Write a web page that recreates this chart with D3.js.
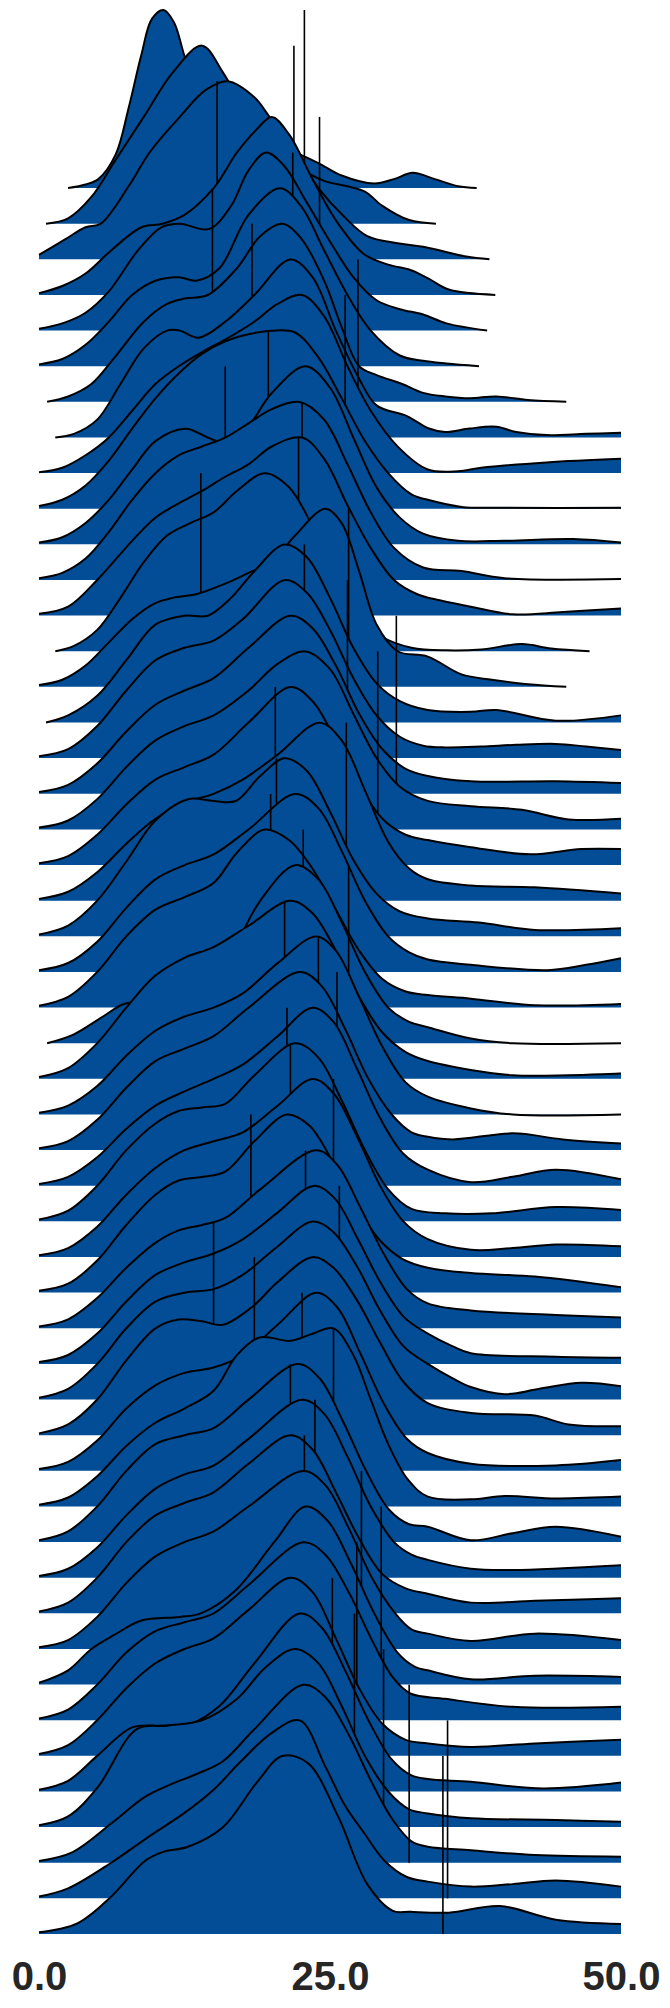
<!DOCTYPE html>
<html><head><meta charset="utf-8">
<script src="https://cdn.jsdelivr.net/npm/d3@7"></script>
<style>body{margin:0;background:#fff}svg{display:block}</style>
</head><body>
<svg id="chart" width="670" height="2008"></svg>
<script>
const tickValues = [0, 25, 50];
const tickLabels = ["0.0", "25.0", "50.0"];
const markers = [22.8,21.9,15.3,24.1,21.8,14.9,18.3,27.4,26.3,19.7,16.0,22.6,22.3,13.9,26.6,22.8,26.5,30.7,29.1,20.3,
  26.4,20.4,19.9,22.7,26.6,21.1,24.0,25.6,21.3,21.6,25.3,18.2,22.9,25.8,15.0,18.5,22.6,25.3,21.6,23.7,
  22.8,27.7,29.4,27.3,25.2,27.1,29.6,31.8,35.1,34.7];
const ridges = [
 [[2.5,0],[4,0.02],[5.1,0.05],[6.6,0.19],[7.7,0.45],[8.8,0.75],[9.7,0.95],[10.7,1],[11.6,0.93],[12.6,0.72],[14,0.5],[16,0.38],[18,0.3],[20,0.25],[22,0.2],[24,0.14],[26,0.07],[28.8,0.025],[30.5,0.05],[32.1,0.085],[34,0.05],[36,0.01],[37.6,0]],
 [[0.6,0],[2.5,0.03],[4.5,0.15],[6.5,0.35],[9,0.6],[11.5,0.85],[14,1],[15.8,0.85],[18,0.6],[20,0.45],[22,0.33],[24.5,0.24],[26.5,0.21],[28,0.18],[29.5,0.1],[31.8,0.02],[34.1,0]],
 [[0,0.025],[2.2,0.11],[4,0.18],[5.3,0.2],[7.7,0.41],[9.5,0.6],[12.1,0.8],[14.3,0.95],[16.2,1],[18.5,0.91],[19.8,0.8],[22,0.6],[24,0.4],[26.2,0.24],[28.2,0.13],[30.8,0.09],[33,0.07],[36.7,0.015],[38.7,0]],
 [[0,0.01],[2,0.05],[4,0.12],[6.2,0.25],[8.8,0.38],[10.6,0.4],[12.5,0.45],[15,0.6],[17,0.8],[18.7,0.93],[20,1],[21.5,0.9],[23.5,0.65],[25.5,0.42],[27.9,0.23],[30,0.17],[31.9,0.14],[33.5,0.09],[35.2,0.03],[39.2,0]],
 [[0,0.01],[2,0.04],[4,0.1],[6,0.22],[8.5,0.45],[10.5,0.58],[12.1,0.6],[14.6,0.57],[16.5,0.7],[18,0.9],[19.5,1],[21,0.93],[23,0.72],[25,0.5],[27,0.3],[29,0.17],[31,0.12],[33,0.09],[35,0.04],[38.5,0]],
 [[0,0.01],[2,0.04],[4,0.12],[6,0.25],[8,0.4],[10,0.48],[12,0.5],[13.5,0.48],[15.5,0.55],[18,0.85],[20.7,1],[22.5,0.9],[24.5,0.65],[26.5,0.4],[28.5,0.2],[31,0.06],[33,0.03],[35,0.015],[37.8,0]],
 [[0.7,0],[2.5,0.03],[4.5,0.1],[6.5,0.25],[9,0.45],[11,0.55],[12.5,0.58],[14.5,0.6],[17,0.75],[19,0.93],[20.9,1],[22.5,0.92],[24.5,0.68],[26,0.42],[27.5,0.2],[29,0.15],[31.2,0.1],[33,0.05],[34.9,0.03],[37,0.02],[39.3,0.03],[42,0.01],[45.3,0]],
 [[1.4,0],[3,0.02],[5,0.1],[7,0.3],[9,0.5],[11,0.6],[12.1,0.6],[13.7,0.56],[16,0.65],[18.5,0.8],[21.6,1],[23.5,0.9],[25.5,0.6],[27.5,0.33],[29,0.18],[31.6,0.12],[33.5,0.05],[34.9,0.03],[37,0.05],[39.3,0.06],[41,0.03],[43.6,0.013],[47,0.02],[50,0.026]],
 [[0,0.005],[2,0.03],[4,0.1],[6,0.2],[8,0.35],[10,0.5],[12,0.6],[14,0.68],[16,0.75],[18.5,0.85],[20.5,0.95],[22.6,1],[24.5,0.88],[26.5,0.6],[28.5,0.35],[30.8,0.15],[33.4,0.02],[36,0.01],[38,0.03],[43.6,0.06],[50,0.08]],
 [[0,0.015],[2,0.05],[4,0.13],[6,0.27],[8,0.45],[10,0.62],[12,0.76],[14,0.87],[16,0.94],[18,0.98],[20,1],[22,0.99],[24,0.85],[26,0.62],[28,0.38],[30,0.2],[32,0.08],[33.4,0.05],[36.3,0.01],[40,0.005],[50,0.005]],
 [[0,0.01],[2,0.04],[4,0.12],[6,0.25],[8,0.42],[10,0.58],[12.6,0.65],[14.5,0.6],[15.9,0.57],[17.5,0.62],[20,0.85],[22.9,1],[25,0.88],[27,0.6],[29,0.32],[31,0.15],[33,0.06],[36,0.02],[40,0.02],[45.9,0.03],[50,0.01]],
 [[0,0.01],[2,0.04],[4,0.12],[6,0.27],[8,0.45],[10,0.6],[12,0.7],[14,0.75],[16,0.8],[18,0.88],[20,0.96],[22.4,1],[24.5,0.9],[26.5,0.65],[28.5,0.38],[30.5,0.18],[33,0.07],[36.3,0.05],[40,0.01],[50,0.005]],
 [[0,0.01],[2.5,0.05],[5,0.2],[8,0.42],[10,0.55],[12,0.63],[14,0.7],[16,0.78],[18,0.85],[20,0.95],[22.6,1],[24.5,0.88],[26.5,0.62],[28.5,0.38],[30.5,0.2],[32.5,0.12],[34.1,0.09],[37.1,0.05],[40.7,0.007],[45,0.02],[50,0.04]],
 [[1.4,0],[3,0.03],[5,0.12],[7,0.3],[9,0.5],[11,0.65],[13,0.72],[15,0.78],[17,0.9],[19.4,1],[21.5,0.92],[23.5,0.7],[25.5,0.42],[27.5,0.2],[29.5,0.08],[32,0.02],[35,0.005],[38,0.01],[41.5,0.04],[44,0.015],[47.3,0]],
 [[0,0.01],[2,0.04],[4,0.12],[6,0.25],[8,0.38],[10,0.47],[11.5,0.5],[13.5,0.52],[16,0.58],[18,0.64],[20,0.7],[22,0.85],[24.6,1],[26,0.92],[27.5,0.65],[29,0.35],[30.8,0.2],[33.4,0.17],[36.3,0.07],[38.9,0.04],[42,0.015],[45.3,0]],
 [[0.6,0],[2.5,0.04],[5,0.15],[7.5,0.35],[10,0.55],[12.5,0.6],[14.5,0.6],[16.5,0.7],[18.5,0.85],[21.1,1],[23,0.93],[25,0.7],[27,0.42],[29,0.22],[31,0.12],[33.4,0.07],[37.1,0.06],[39.3,0.07],[44.4,0.01],[50,0.04]],
 [[0,0.01],[2.5,0.05],[5,0.18],[7.5,0.38],[10,0.55],[12.5,0.62],[15,0.66],[17.5,0.78],[21.1,1],[23,0.93],[25,0.72],[27,0.45],[29,0.24],[31,0.12],[33,0.07],[34.9,0.06],[38,0.065],[41,0.075],[44.4,0.08],[47,0.065],[50,0.045]],
 [[0,0.01],[2.5,0.05],[5,0.17],[7.5,0.35],[10,0.5],[12.5,0.58],[15,0.65],[18,0.82],[21.6,1],[23.5,0.93],[25.5,0.72],[27.5,0.45],[29.5,0.25],[31.5,0.14],[33.4,0.1],[37.1,0.07],[44.4,0.07],[50,0.06]],
 [[0,0.01],[2.5,0.05],[5,0.17],[7.5,0.35],[10,0.5],[12.5,0.58],[15,0.64],[18,0.78],[20.5,0.93],[22.9,1],[25,0.9],[27,0.65],[29,0.4],[31,0.24],[33.4,0.16],[37.1,0.13],[41.5,0.11],[45.5,0.056],[50,0.06]],
 [[0,0.01],[2.5,0.05],[5,0.17],[7.5,0.34],[10,0.48],[12.5,0.55],[15,0.62],[18,0.8],[21.6,1],[23.5,0.92],[25.5,0.7],[27.5,0.45],[29.5,0.26],[31.5,0.17],[33.4,0.14],[37.1,0.1],[42.2,0.06],[46.6,0.09],[50,0.09]],
 [[0,0.01],[2.5,0.05],[5,0.16],[7.5,0.32],[10,0.46],[12.5,0.55],[15,0.6],[17.5,0.68],[20.5,0.82],[24.1,1],[26,0.9],[28,0.62],[30,0.33],[31.8,0.18],[33.4,0.12],[37.1,0.085],[42.6,0.075],[50,0.04]],
 [[0,0.01],[2.5,0.06],[5,0.2],[7.5,0.42],[10,0.65],[12.8,0.77],[15,0.76],[16.9,0.76],[19,0.9],[21.1,1],[23,0.93],[25,0.7],[27,0.43],[29,0.24],[31,0.14],[33.4,0.1],[37.8,0.077],[42.6,0.036],[50,0.045]],
 [[0,0.01],[2.5,0.05],[5,0.17],[7.5,0.36],[10,0.52],[12.5,0.6],[15,0.66],[18,0.8],[22,1],[24,0.92],[26,0.68],[28,0.4],[30,0.2],[31.8,0.11],[33.4,0.07],[37.1,0.04],[43.7,0.01],[47,0.04],[50,0.077]],
 [[0,0.01],[2.5,0.06],[5,0.2],[7.5,0.4],[10,0.55],[12.5,0.62],[15,0.7],[17,0.87],[19.4,1],[21.5,0.94],[23.5,0.78],[25.5,0.55],[27.5,0.32],[29.5,0.16],[31.5,0.09],[33.4,0.07],[37.1,0.05],[42.6,0.013],[50,0.02]],
 [[0.7,0],[3,0.05],[5.5,0.15],[7.3,0.22],[9,0.23],[12.1,0.23],[14.3,0.3],[16.5,0.5],[19,0.8],[22,1],[24,0.92],[26,0.68],[28,0.4],[30,0.2],[31.8,0.12],[33.4,0.09],[37.1,0.026],[40.7,0],[50,0]],
 [[0,0.01],[2.5,0.06],[5,0.2],[7.5,0.4],[10,0.58],[12.5,0.68],[15,0.74],[18,0.86],[21.6,1],[23.5,0.93],[25.5,0.72],[27.5,0.46],[29.5,0.26],[31.5,0.15],[33.4,0.1],[37.1,0.05],[40.7,0.02],[45.5,0.02],[50,0.03]],
 [[0,0.01],[2.5,0.05],[5,0.16],[7.5,0.33],[10,0.47],[12.5,0.55],[15,0.6],[17.5,0.68],[20.5,0.85],[23.8,1],[25.5,0.92],[27.5,0.66],[29.5,0.38],[31.5,0.18],[33.4,0.1],[37.1,0.034],[40.7,0],[50,0]],
 [[0,0.01],[2.5,0.05],[5,0.17],[7.5,0.35],[10,0.5],[12.5,0.57],[15,0.64],[18,0.8],[22.4,1],[24.3,0.92],[26.3,0.68],[28.3,0.4],[30.3,0.2],[32,0.1],[33.4,0.075],[35.6,0.06],[40.7,0.094],[45,0.06],[50,0.037]],
 [[0,0.01],[2.5,0.05],[5,0.16],[7.5,0.32],[10,0.45],[12.5,0.53],[15,0.6],[17.5,0.68],[20.5,0.84],[23.5,1],[25.3,0.92],[27.3,0.66],[29.3,0.38],[31.3,0.18],[33.4,0.09],[37.1,0.02],[40.7,0.05],[44.4,0.09],[50,0.036]],
 [[0,0.01],[2.5,0.06],[5,0.2],[7.5,0.4],[10,0.55],[12,0.62],[14,0.64],[16,0.66],[18.5,0.82],[22,1],[24,0.92],[26,0.68],[28,0.4],[30,0.18],[32,0.07],[34.9,0.045],[38.9,0.045],[44.4,0.08],[50,0.064]],
 [[0,0.01],[2.5,0.05],[5,0.17],[7.5,0.35],[10,0.5],[12.5,0.6],[15,0.65],[17.5,0.7],[20.5,0.85],[23.5,1],[25.3,0.92],[27.3,0.68],[29.3,0.4],[31.3,0.2],[33.4,0.1],[37.1,0.04],[40.7,0.05],[44.4,0.07],[50,0.06]],
 [[0,0.01],[2.5,0.05],[5,0.18],[7.5,0.38],[10,0.55],[12,0.63],[14,0.65],[16,0.68],[18.5,0.85],[21.3,1],[23.2,0.94],[25.2,0.74],[27.2,0.5],[29.2,0.3],[31.2,0.19],[33.4,0.14],[37.1,0.11],[42.6,0.09],[50,0.03]],
 [[0,0.01],[2.5,0.05],[5,0.17],[7.5,0.34],[10,0.48],[12,0.55],[14,0.58],[16,0.62],[19,0.78],[23.8,1],[25.6,0.92],[27.6,0.68],[29.6,0.42],[31.6,0.22],[33.4,0.14],[37.1,0.1],[44.4,0.075],[50,0.06]],
 [[0,0.01],[2.5,0.05],[5,0.17],[7.5,0.35],[10,0.5],[12.5,0.57],[15,0.62],[17.5,0.7],[20.5,0.85],[23.6,1],[25.4,0.93],[27.4,0.7],[29.4,0.45],[31.4,0.26],[33.4,0.17],[35.5,0.1],[37.1,0.06],[44.4,0.04],[50,0.034]],
 [[0,0.01],[2.5,0.06],[5,0.2],[7.5,0.4],[10,0.55],[12.5,0.6],[15,0.62],[17.5,0.7],[20.5,0.86],[23.5,1],[25.3,0.94],[27.3,0.75],[29.3,0.5],[31.3,0.3],[33.4,0.2],[35.5,0.12],[37.1,0.07],[40,0.03],[43,0.06],[46.6,0.094],[50,0.075]],
 [[0,0.01],[2.5,0.06],[5,0.2],[7.5,0.42],[10,0.6],[12,0.65],[14,0.64],[15.8,0.62],[18.3,0.72],[20.5,0.86],[23.5,1],[25.3,0.94],[27.3,0.76],[29.3,0.52],[31.3,0.3],[33.4,0.18],[37.1,0.125],[42.6,0.11],[45.5,0.06],[50,0.05]],
 [[0,0.01],[2.5,0.05],[5,0.17],[7.5,0.35],[10,0.48],[12.5,0.55],[15,0.58],[17.5,0.65],[20.5,0.82],[23.8,1],[25.6,0.92],[27.6,0.66],[29.6,0.38],[31.6,0.18],[33.4,0.1],[37.1,0.04],[44.4,0.03],[50,0.06]],
 [[0,0.01],[2.5,0.05],[5,0.17],[7.5,0.34],[10,0.47],[12.5,0.55],[15,0.65],[17,0.85],[19,0.95],[21.6,0.93],[23.5,0.97],[25.3,1],[27,0.85],[28.5,0.6],[30,0.35],[31.7,0.15],[33.4,0.055],[37.1,0.04],[40,0.058],[44.4,0.045],[50,0.055]],
 [[0,0.01],[2.5,0.06],[5,0.2],[7.5,0.4],[10,0.55],[12.5,0.6],[15,0.64],[18,0.8],[22.2,1],[24.1,0.92],[26.1,0.68],[28.1,0.4],[30.1,0.18],[31.8,0.1],[33.4,0.086],[37.1,0.01],[40.7,0.05],[44.4,0.086],[50,0.03]],
 [[0,0.01],[2.5,0.05],[5,0.17],[7.5,0.35],[10,0.5],[12.5,0.58],[15,0.63],[18,0.78],[22.6,1],[24.5,0.92],[26.5,0.68],[28.5,0.4],[30.5,0.2],[32,0.13],[33.4,0.1],[37.1,0.05],[40.7,0.043],[50,0.07]],
 [[0,0.01],[2.5,0.06],[5,0.2],[7.5,0.4],[10,0.55],[12.5,0.62],[15,0.68],[18,0.84],[21.6,1],[23.5,0.92],[25.5,0.68],[27.5,0.42],[29.5,0.22],[31.5,0.14],[33.4,0.11],[37.1,0.06],[42.6,0.07],[50,0.084]],
 [[0,0.01],[2.5,0.05],[5,0.18],[7.5,0.37],[10,0.52],[12.5,0.6],[15,0.66],[18,0.8],[22.7,1],[24.6,0.92],[26.6,0.68],[28.6,0.4],[30.6,0.2],[32,0.11],[33.4,0.086],[37.1,0.045],[42.6,0.086],[50,0.05]],
 [[0,0.01],[2.5,0.08],[4.5,0.2],[6.5,0.28],[8.8,0.36],[12.1,0.38],[13.9,0.4],[16.9,0.53],[20.2,0.8],[22.9,1],[24.8,0.92],[26.8,0.68],[28.8,0.4],[30.8,0.18],[32.3,0.1],[33.4,0.08],[37.1,0.03],[42.6,0.05],[50,0.043]],
 [[0,0.01],[2.5,0.06],[5,0.2],[7.5,0.38],[10,0.5],[12.5,0.55],[15,0.6],[18,0.76],[22.7,1],[24.6,0.93],[26.6,0.72],[28.6,0.45],[30.4,0.24],[31.9,0.15],[34.9,0.12],[40.7,0.075],[50,0.075]],
 [[0,0.01],[2.5,0.06],[5,0.2],[7.5,0.38],[10,0.52],[12.5,0.6],[15,0.66],[18,0.82],[21.6,1],[23.5,0.92],[25.5,0.66],[27.5,0.38],[29.5,0.18],[31.5,0.09],[33.4,0.07],[37.1,0.05],[42.6,0.07],[50,0.09]],
 [[0,0.01],[2.5,0.06],[5,0.2],[8,0.36],[10.5,0.37],[13,0.38],[15.5,0.48],[18.5,0.72],[22.4,1],[24.3,0.92],[26.3,0.68],[28.3,0.4],[30.3,0.18],[32,0.09],[33.4,0.07],[37.1,0.054],[43.3,0.017],[50,0.05]],
 [[0,0.01],[2.5,0.06],[5,0.22],[8.4,0.55],[11,0.57],[14,0.6],[17,0.72],[19.5,0.9],[22,1],[24,0.92],[26,0.68],[28,0.4],[30,0.2],[31.8,0.1],[33.4,0.077],[37.1,0.05],[44.4,0.04],[50,0.03]],
 [[0,0.01],[2.9,0.06],[6.2,0.22],[9.1,0.37],[11.3,0.44],[13.6,0.5],[15.8,0.57],[18.5,0.75],[22.7,1],[24.6,0.93],[26.6,0.72],[28.6,0.45],[30.4,0.24],[32,0.12],[33.4,0.09],[37.1,0.07],[42.6,0.043],[50,0.034]],
 [[0,0.01],[2.5,0.056],[6.2,0.2],[9.5,0.35],[12.5,0.48],[15,0.61],[17.2,0.76],[20,0.93],[22.4,1],[24.6,0.74],[26.3,0.52],[27.9,0.37],[29.7,0.21],[31.6,0.12],[33.4,0.094],[37.1,0.066],[40.7,0.08],[44.4,0.1],[50,0.066]],
 [[0,0.01],[3.3,0.06],[6.2,0.21],[9.1,0.41],[10.6,0.46],[12.8,0.49],[15.8,0.6],[18.7,0.85],[20.9,1],[23.1,0.96],[25.7,0.66],[28.2,0.28],[30.4,0.13],[31.9,0.125],[35.2,0.12],[39.6,0.157],[44.4,0.08],[50,0.056]]
];

const svg = d3.select("#chart");
const x = d3.scaleLinear().domain([0, 50]).range([39, 621]);
const rowY = d3.scalePoint().domain(d3.range(ridges.length)).range([188, 1934]);
const h = d3.scaleLinear().domain([0, 1]).range([0, -178]);

const curve = d3.curveCatmullRom.alpha(0.5);
const area = d3.area().x(d => x(d[0])).y0(0).y1(d => Math.min(0, h(d[1]))).curve(curve);
const line = d3.line().x(d => x(d[0])).y(d => h(d[1])).curve(curve);

ridges.forEach((pts, i) => {
  const g = svg.append("g").attr("transform", `translate(0,${rowY(i)})`);
  g.append("path").attr("d", area(pts)).attr("fill", "#024d96").attr("stroke", "none");
  g.append("path").attr("d", line(pts)).attr("fill", "none").attr("stroke", "#000")
    .attr("stroke-width", 2).attr("stroke-linejoin", "round");
  g.append("line").attr("x1", x(markers[i])).attr("x2", x(markers[i]))
    .attr("y1", h(0)).attr("y2", h(1)).attr("stroke", "#000").attr("stroke-width", 1.6);
});

const axis = d3.axisBottom(x).tickValues(tickValues).tickFormat((d, i) => tickLabels[i]).tickSize(0).tickPadding(0);
const ag = svg.append("g").attr("transform", "translate(0,1962)").call(axis);
ag.select(".domain").remove();
ag.selectAll("text").attr("font-family", "'Liberation Sans', Arial, sans-serif")
  .attr("font-weight", "bold").attr("font-size", 40).attr("fill", "#262626").attr("dy", "0.71em");
</script>
</body></html>
